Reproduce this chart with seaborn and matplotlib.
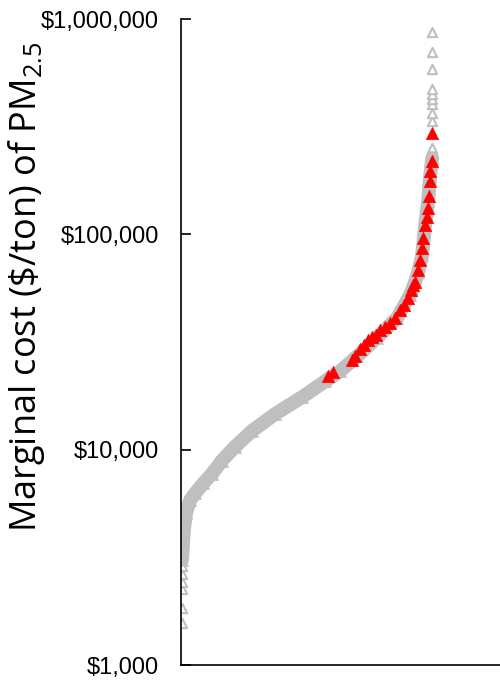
from pathlib import Path

import matplotlib
matplotlib.use("Agg")
import matplotlib.pyplot as plt
import matplotlib.ticker as mticker
import pandas as pd
import seaborn as sns


OUT_PATH = Path("out.png")

GRAY = "#BFBFBF"
RED = "#FF0000"

# rank along the sorted list of sources (0 = cheapest, 1 = most expensive)
CURVE_RANK = [0.004, 0.008, 0.012, 0.020, 0.036, 0.056, 0.088, 0.124, 0.163,
              0.215, 0.283, 0.375, 0.482, 0.574, 0.633, 0.701, 0.781, 0.861,
              0.912, 0.932, 0.944, 0.960, 0.972, 0.984, 0.992, 1.000]
CURVE_COST = [3080, 3690, 4320, 5070, 5820, 6270, 6970, 7750, 8900,
              10320, 12240, 14650, 17550, 20800, 23130, 27120, 33170, 41020,
              52350, 60080, 66830, 80060, 110000, 143400, 187100, 226300]

# outliers drawn as open triangles
LOW_RANK = [0.004, 0.004, 0.004, 0.004, 0.004, 0.004]
LOW_COST = [1561, 1850, 2264, 2439, 2655, 2890]
HIGH_RANK = [1.0, 1.0, 1.0, 1.0, 1.0, 1.0, 1.0, 1.0, 1.0, 1.0]
HIGH_COST = [251700, 335200, 365000, 401500, 423300, 446400, 470900,
             588400, 704700, 871000]

# highlighted sources
RED_RANK = [0.586, 0.606, 0.681, 0.693, 0.713, 0.729, 0.745, 0.761, 0.777,
            0.793, 0.813, 0.833, 0.853, 0.873, 0.888, 0.904, 0.916, 0.924,
            0.932, 0.944, 0.952, 0.960, 0.964, 0.972, 0.980, 0.984, 0.988,
            0.992, 0.992, 1.000, 1.000]
RED_COST = [21930, 22880, 25980, 27120, 29200, 30800, 32470, 33520, 34240,
            36110, 37270, 38890, 41020, 44650, 47090, 50720, 55210, 58210,
            60080, 68270, 75900, 86220, 95850, 110000, 119800, 133200, 151300,
            177400, 197200, 219300, 295100]

Y_TICKS = [1e3, 1e4, 1e5, 1e6]


def dollar(value, _pos):
    return f"${value:,.0f}"


def main() -> None:
    sns.set_style("ticks")
    plt.rcParams["font.family"] = ["Liberation Sans", "DejaVu Sans"]

    curve = pd.DataFrame({"rank": CURVE_RANK, "cost": CURVE_COST})
    low = pd.DataFrame({"rank": LOW_RANK, "cost": LOW_COST})
    high = pd.DataFrame({"rank": HIGH_RANK, "cost": HIGH_COST})
    red = pd.DataFrame({"rank": RED_RANK, "cost": RED_COST})

    fig = plt.figure(figsize=(5, 6.8), dpi=100)
    ax = fig.add_axes([0.362, 0.022, 0.638, 0.950])

    sns.lineplot(data=curve, x="rank", y="cost", color=GRAY, lw=10,
                 sort=False, ax=ax)
    sns.scatterplot(data=curve, x="rank", y="cost", marker="^", s=75,
                    color=GRAY, edgecolor=GRAY, linewidth=0.5, ax=ax)
    for df in (low, high):
        sns.scatterplot(data=df, x="rank", y="cost", marker="^", s=45,
                        facecolor="white", edgecolor=GRAY, linewidth=1.5,
                        ax=ax)
    sns.scatterplot(data=red, x="rank", y="cost", marker="^", s=78,
                    color=RED, edgecolor=RED, linewidth=0.5, zorder=5, ax=ax)

    ax.set_yscale("log")
    ax.set_ylim(1e3, 1e6)
    ax.set_xlim(0.0, 1.27)
    ax.set_yticks(Y_TICKS)
    ax.yaxis.set_major_formatter(mticker.FuncFormatter(dollar))
    ax.yaxis.set_minor_locator(mticker.NullLocator())
    ax.set_xticks([])
    ax.set_xlabel("")
    ax.tick_params(axis="y", direction="in", length=7, width=1.2,
                   labelsize=17, pad=16, labelcolor="black", color="black")
    for side in ("top", "right"):
        ax.spines[side].set_visible(False)
    for side in ("left", "bottom"):
        ax.spines[side].set_linewidth(1.2)
        ax.spines[side].set_color("black")

    ax.set_ylabel(r"Marginal cost (\$/ton) of PM$_{\mathregular{2.5}}$",
                  fontfamily="Open Sans", fontsize=26, color="black")
    ax.yaxis.set_label_coords(-0.42, 0.585)

    fig.savefig(OUT_PATH, dpi=100)
    plt.close(fig)


if __name__ == "__main__":
    main()
